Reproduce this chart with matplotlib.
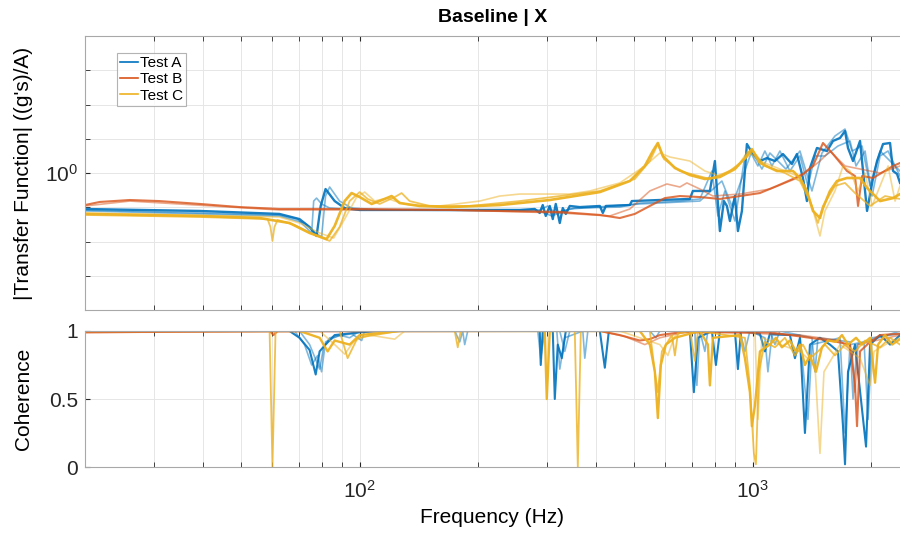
import numpy as np
import matplotlib
matplotlib.use("Agg")
import matplotlib.pyplot as plt
from matplotlib.ticker import FixedLocator, NullFormatter, LogFormatterMathtext

plt.rcParams['font.family'] = ['Liberation Sans', 'DejaVu Sans']

# ---- transfer function magnitude (Hz, (g's)/A) ----
fA1 = [20, 39.2, 62.5, 70.3, 74.6, 77.7, 79.6, 81.9, 86.4, 91.6, 100, 169.5, 255.6, 279, 287.3, 292.4,
       297.6, 304.7, 310.1, 315.6, 323.1, 328.8, 334.7, 342.6, 363.3, 408.6, 415.8, 423.2, 487.1, 492.8,
       580.7, 692.4, 704.7, 778.7, 801.8, 825.6, 845.3, 860.3, 875.6, 901.6, 917.6, 939.4, 967.2, 1001.8,
       1043.8, 1087.5, 1139.7, 1194.5, 1259.2, 1296.7, 1343, 1374.9, 1399.4, 1458.1, 1546.3, 1601.6,
       1668.8, 1718.6, 1749.1, 1801.2, 1876.7, 1955.5, 2025.6, 2073.6, 2147.8, 2237.7, 2277.5, 2331.4, 2372.5]
mA1 = [0.739, 0.727, 0.709, 0.679, 0.635, 0.589, 0.758, 0.874, 0.790, 0.745, 0.733, 0.733, 0.733, 0.739, 0.715, 0.764,
       0.697, 0.758, 0.679, 0.771, 0.657, 0.745, 0.709, 0.758, 0.751, 0.758, 0.715, 0.758, 0.764, 0.790,
       0.797, 0.804, 0.860, 0.860, 1.106, 0.614, 0.790, 0.758, 0.668, 0.824, 0.614, 0.727, 1.276, 1.173,
       1.106, 1.134, 1.106, 1.173, 1.079, 1.173, 0.959, 0.790, 1.043, 1.234, 1.203, 1.309,
       1.342, 1.423, 1.234, 1.106, 1.309, 0.727, 0.959, 1.106, 1.276, 1.287, 1.017, 0.992, 0.920]

fA2 = [20, 62.5, 69.5, 73.7, 75.5, 76.4, 77.7, 80.0, 83.9, 100, 287.3, 301.2, 313.8, 352.8, 459.3, 516.4,
       653, 734.3, 787.9, 816.1, 850.3, 901.6, 956, 984.3, 1031.5, 1074.8, 1119.9, 1173.6, 1244.5, 1319.7,
       1383, 1441.1, 1528.3, 1649.4, 1769.8, 1833.3, 1932.7, 2013.7, 2110.5, 2211.7, 2304.4, 2372.5]
mA2 = [0.733, 0.703, 0.679, 0.625, 0.604, 0.790, 0.810, 0.771, 0.745, 0.733, 0.733, 0.758, 0.715, 0.745, 0.751, 0.777,
       0.790, 0.804, 1.017, 0.697, 0.860, 0.668, 1.154, 1.203, 1.061, 1.203, 1.061, 1.203, 1.017, 1.154,
       0.897, 1.154, 1.154, 1.255, 1.309, 1.061, 1.203, 0.824, 1.154, 1.203, 1.061, 0.975]

fA3 = [20, 62.5, 72.4, 77.3, 80.0, 81.9, 83.9, 88.9, 95.4, 112.4, 287.3, 308.3, 342.6, 516.4, 734.3, 835.4,
       885.9, 995.9, 1056.1, 1106.8, 1215.7, 1319.7, 1415.9, 1501.6, 1620.5, 1718.6, 1790.6, 1898.9,
       1990.2, 2110.5, 2372.5]
mA3 = [0.727, 0.697, 0.657, 0.604, 0.584, 0.824, 0.889, 0.790, 0.745, 0.733, 0.727, 0.697, 0.739, 0.771, 0.790, 0.935,
       0.758, 1.203, 1.034, 1.183, 1.034, 1.203, 0.860, 1.183, 1.365, 1.447, 1.203, 1.255,
       0.897, 1.203, 1.017]

fB1 = [20, 21.8, 26.0, 30.9, 39.2, 49.5, 62.5, 100, 169.5, 227.3, 323.1, 408.6, 459.3, 501.5, 547.6, 598,
       653, 734.3, 825.6, 928.5, 1043.8, 1153.2, 1266.6, 1343, 1424.3, 1510.4, 1601.6, 1738.8, 1822.5,
       1854.9, 1898.9, 2025.6, 2277.5, 2372.5]
mB1 = [0.764, 0.784, 0.797, 0.790, 0.771, 0.751, 0.739, 0.739, 0.733, 0.727, 0.721, 0.703, 0.685, 0.709, 0.758, 0.810,
       0.824, 0.817, 0.804, 0.824, 0.845, 0.897, 0.951, 0.992, 1.061, 1.287, 1.173, 1.017, 0.975,
       0.758, 0.975, 0.959, 1.061, 1.088]

fB2 = [20, 26.0, 62.5, 169.5, 323.1, 433.3, 487.1, 547.6, 605.1, 653, 680.4, 734.3, 792.5, 928.5, 1106.8,
       1319.7, 1484, 1573.8, 1718.6, 1876.7, 2110.5, 2372.5]
mB2 = [0.758, 0.790, 0.733, 0.733, 0.715, 0.697, 0.739, 0.860, 0.912, 0.889, 0.920, 0.874, 0.824, 0.838, 0.874,
       0.967, 1.106, 1.203, 1.061, 1.034, 1.0, 1.061]

fC1 = [20, 39.2, 55.6, 66.3, 74.6, 82.4, 86.4, 91.6, 95.4, 100, 107.3, 115.8, 120.6, 126.4, 142.2, 169.5,
       227.3, 304.7, 408.6, 487.1, 531.8, 557.4, 574, 591.1, 634.2, 692.4, 756.1, 825.6, 901.6, 956, 995.9,
       1043.8, 1153.2, 1266.6, 1319.7, 1374.9, 1424.3, 1484, 1510.4, 1573.8, 1639.7, 1738.8, 1876.7,
       1955.5, 2110.5, 2277.5, 2372.5]
mC1 = [0.709, 0.697, 0.685, 0.657, 0.604, 0.574, 0.641, 0.790, 0.845, 0.817, 0.771, 0.804, 0.824, 0.777, 0.758, 0.751,
       0.764, 0.797, 0.852, 0.935, 1.061, 1.203, 1.287, 1.154, 1.043, 0.983, 0.951, 0.967, 1.034, 1.134, 1.223,
       1.088, 1.017, 1.017, 0.959, 0.860, 0.727, 0.685, 0.745, 0.860, 0.935, 0.959, 0.959,
       0.882, 0.790, 0.810, 0.838]

fC2 = [20, 39.2, 58.3, 59.3, 60.0, 60.7, 61.8, 68.3, 76.8, 83.9, 88.9, 94.3, 100, 104.8, 112.4, 122.8, 127.9,
       134, 150.7, 190.6, 255.6, 323.1, 408.6, 501.5, 547.6, 574, 594.5, 653, 778.7, 875.6, 956, 1001.8,
       1074.8, 1208.6, 1319.7, 1399.4, 1466.7, 1510.4, 1620.5, 1718.6, 1822.5, 1990.2, 2173.2, 2372.5]
mC2 = [0.703, 0.691, 0.679, 0.635, 0.565, 0.635, 0.674, 0.646, 0.594, 0.565, 0.635, 0.790, 0.852, 0.804, 0.771, 0.817, 0.845,
       0.790, 0.758, 0.758, 0.790, 0.824, 0.860, 0.951, 1.106, 1.276, 1.125, 1.017, 0.951, 1.017, 1.125, 1.203,
       1.061, 1.0, 0.935, 0.790, 0.657, 0.758, 0.897, 0.920, 0.845, 0.758, 0.824, 0.804]

fC3 = [20, 62.5, 70.3, 79.1, 85.9, 91.6, 98.3, 103, 109.2, 117.2, 122.8, 134, 159.9, 202.1, 227.3, 255.6,
       287.3, 342.6, 385.3, 459.3, 531.8, 580.7, 615.9, 692.4, 756.1, 825.6, 917.6, 972.7, 1043.8, 1173.6,
       1319.7, 1415.9, 1484, 1528.3, 1620.5, 1698.5, 1769.8, 1854.9, 1932.7, 2013.7, 2110.5, 2211.7,
       2304.4, 2372.5]
mC3 = [0.715, 0.691, 0.657, 0.604, 0.579, 0.679, 0.817, 0.852, 0.790, 0.810, 0.790, 0.764, 0.758, 0.790, 0.824, 0.838,
       0.838, 0.838, 0.860, 0.920, 1.061, 1.183, 1.144, 1.106, 1.017, 0.975, 1.061, 1.203, 1.106, 1.034,
       0.967, 0.758, 0.589, 0.727, 0.860, 1.061, 1.017, 0.860, 1.0, 0.758, 0.897, 1.061,
       0.790, 0.897]

# ---- coherence ----
cfA1 = [20, 66.3, 70.3, 74.6, 77.3, 79.1, 81.9, 86.4, 100, 112.4, 287.3, 289.0, 292.4, 310.1, 313.8, 319.3,
        326.9, 334.7, 408.6, 420.7, 430.7, 692.4, 708.8, 725.7, 787.9, 806.6, 825.6, 901.6, 917.6, 933.9,
        1043.8, 1074.8, 1106.8, 1244.5, 1281.6, 1319.7, 1358.9, 1399.4, 1484, 1573.8, 1649.4, 1698.5,
        1718.6, 1749.1, 1822.5, 1944, 1990.2, 2110.5, 2237.7, 2372.5]
cA1 = [1.0, 1.0, 0.95, 0.86, 0.68, 0.85, 0.90, 0.97, 0.99, 1.0, 1.0, 0.75, 1.0, 1.0, 0.5, 0.9,
       0.8, 1.0, 1.0, 0.73, 1.0, 1.0, 0.55, 0.95, 1.0, 0.75, 1.0, 1.0, 0.72, 1.0,
       0.98, 0.85, 0.98, 0.97, 0.8, 0.95, 0.25, 0.9, 0.95, 0.9, 0.85, 0.3,
       0.02, 0.7, 0.9, 0.15, 0.9, 0.97, 0.9, 0.97]

cfA2 = [20, 68.3, 72.4, 75.5, 78.2, 80.0, 81.9, 88.9, 94.3, 100, 174.6, 179.8, 182.9, 185.1, 188.4, 284.0,
        289.0, 295.9, 317.5, 323.1, 332.7, 369.8, 374.1, 380.8, 547.6, 567.3, 580.7, 713.0, 721.4, 734.3,
        928.5, 956.0, 984.3, 1074.8, 1093.9, 1119.9, 1319.7, 1383.0, 1415.9, 1668.8, 1718.6, 1769.8,
        1921.3, 1967.1, 2013.7, 2372.5]
cA2 = [1, 1, 0.9, 0.75, 0.82, 0.7, 0.92, 0.97, 0.95, 1, 1, 0.92, 1, 0.9, 1, 1,
       0.8, 1, 1, 0.72, 0.95, 1, 0.8, 1, 1, 0.95, 1, 1, 0.6, 1,
       1, 0.85, 1, 0.95, 0.7, 0.97, 0.97, 0.35, 0.9, 0.95, 0.25, 0.9,
       0.92, 0.35, 0.95, 0.98]

cfA3 = [20, 70.3, 74.6, 79.1, 81.0, 83.9, 95.4, 101.2, 103.0, 323.1, 332.7, 342.6, 734.3, 756.1, 769.6,
        1106.8, 1139.7, 1173.6, 1415.9, 1441.1, 1466.7, 1769.8, 1801.2, 1844.1, 2372.5]
cA3 = [1, 1, 0.9, 0.72, 0.88, 0.95, 0.98, 0.93, 1, 1, 0.85, 1, 1, 0.85, 1,
       1, 0.9, 1, 0.95, 0.7, 0.95, 0.92, 0.5, 0.9, 1]

cfB1 = [20, 59.0, 60.4, 61.8, 408.6, 459.3, 516.4, 547.6, 580.7, 653, 1106.8, 1244.5, 1399.4, 1573.8,
        1769.8, 1822.5, 1844.1, 1876.7, 1990.2, 2110.5, 2372.5]
cB1 = [0.99, 1, 0.97, 1, 1, 0.97, 0.93, 0.94, 0.97, 0.99, 0.99, 0.97, 0.95, 0.93,
       0.9, 0.6, 0.3, 0.85, 0.92, 0.97, 0.98]

cfB2 = [20, 408.6, 473.0, 531.8, 580.7, 692.4, 1319.7, 1484, 1668.8, 1790.6, 1822.5, 1854.9, 2372.5]
cB2 = [0.99, 1, 0.96, 0.9, 0.95, 1, 0.97, 0.95, 0.93, 0.85, 0.55, 0.9, 0.97]

cfC1 = [20, 70.3, 79.1, 82.9, 86.4, 94.3, 100, 126.4, 295.9, 299.4, 304.7, 516.4, 547.6, 564.0, 574.0,
        584.2, 601.6, 634.2, 734.3, 769.6, 778.7, 792.5, 928.5, 956.0, 984.3, 995.9, 1013.6, 1043.8,
        1106.8, 1146.4, 1187.5, 1244.5, 1289.2, 1319.7, 1358.9, 1399.4, 1449.6, 1501.6, 1555.4, 1630.1,
        1688.5, 1749.1, 1833.3, 1898.9, 1990.2, 2049.4, 2085.9, 2173.2, 2264.2, 2372.5]
cC1 = [1, 1, 0.95, 0.85, 0.93, 0.9, 0.97, 1, 1, 0.5, 1, 1, 0.9, 0.7, 0.36,
       0.75, 0.9, 0.95, 1, 0.9, 0.6, 0.95, 0.97, 0.8, 0.55, 0.3, 0.45, 0.85,
       0.9, 0.95, 0.88, 0.93, 0.85, 0.9, 0.75, 0.82, 0.7, 0.88, 0.93, 0.92,
       0.97, 0.9, 0.95, 0.9, 0.95, 0.62, 0.9, 0.97, 0.9, 0.94]

cfC2 = [20, 59.0, 60.0, 61.1, 88.9, 93.2, 98.8, 126.4, 174.6, 177.7, 180.8, 352.8, 359.1, 365.5, 547.6,
        564.0, 574.0, 587.6, 623.2, 634.2, 645.4, 692.4, 713.0, 725.7, 956.0, 984.3, 1007.6, 1019.5,
        1037.7, 1074.8, 1139.7, 1208.6, 1281.6, 1343.0, 1399.4, 1466.7, 1528.3, 1620.5, 1718.6, 1822.5,
        1932.7, 2110.5, 2237.7, 2372.5]
cC2 = [1, 1, 0, 1, 1, 0.8, 0.95, 1, 1, 0.88, 1, 1, 0, 1, 1,
       0.7, 0.55, 0.85, 0.97, 0.82, 0.98, 1, 0.78, 1, 0.95, 0.6, 0.1, 0.02,
       0.7, 0.92, 0.88, 0.95, 0.82, 0.9, 0.8, 0.85, 0.9, 0.82, 0.9, 0.85,
       0.93, 0.88, 0.95, 0.9]

cfC3 = [20, 79.1, 86.4, 91.6, 97.1, 106.0, 122.8, 130.2, 459.3, 580.7, 608.7, 630.5, 653.0, 1013.6,
        1031.5, 1056.1, 1173.6, 1319.7, 1441.1, 1484.0, 1519.3, 1668.8, 1876.7, 1990.2, 2037.5, 2237.7, 2372.5]
cC3 = [1, 1, 0.9, 0.83, 0.93, 0.97, 0.94, 1, 1, 0.9, 0.82, 0.95, 1, 1,
       0.35, 0.95, 0.9, 0.85, 0.75, 0.1, 0.7, 0.9, 0.8, 0.6, 0.85, 0.92, 0.95]

blue = '#0072BD'
red = '#D95319'
yellow = '#EDB120'

# trace, colour, width, alpha
mag_traces = [
    (fA2, mA2, blue, 1.2, 0.5), (fA3, mA3, blue, 1.2, 0.5), (fA1, mA1, blue, 1.7, 0.9),
    (fB2, mB2, red, 1.2, 0.5), (fB1, mB1, red, 1.5, 0.8),
    (fC3, mC3, yellow, 1.2, 0.5), (fC2, mC2, yellow, 1.3, 0.75), (fC1, mC1, yellow, 1.9, 0.95),
]
coh_traces = [
    (cfA2, cA2, blue, 1.2, 0.5), (cfA3, cA3, blue, 1.2, 0.5), (cfA1, cA1, blue, 1.5, 0.9),
    (cfB2, cB2, red, 1.2, 0.5), (cfB1, cB1, red, 1.5, 0.8),
    (cfC3, cC3, yellow, 1.2, 0.5), (cfC2, cC2, yellow, 1.3, 0.8), (cfC1, cC1, yellow, 1.7, 0.95),
]

fig = plt.figure(figsize=(9, 5.33), dpi=100)
ax1 = fig.add_axes([0.0944, 0.4184, 0.9056, 0.514])
ax2 = fig.add_axes([0.0944, 0.1238, 0.9056, 0.2552])

for f, m, c, lw, a in mag_traces:
    ax1.plot(f, m, color=c, lw=lw, alpha=a)
for f, m, c, lw, a in coh_traces:
    ax2.plot(f, m, color=c, lw=lw, alpha=a)

# legend proxies
ax1.plot([], [], color=blue, lw=1.2, label='Test A')
ax1.plot([], [], color=red, lw=1.2, label='Test B')
ax1.plot([], [], color=yellow, lw=1.2, label='Test C')

xminor = [20, 30, 40, 50, 60, 70, 80, 90, 200, 300, 400, 500, 600, 700, 800, 900, 2000]
for ax in (ax1, ax2):
    ax.set_xscale('log')
    ax.set_xlim(20, 2372)
    ax.xaxis.set_major_locator(FixedLocator([100, 1000]))
    ax.xaxis.set_minor_locator(FixedLocator(xminor))
    ax.xaxis.set_minor_formatter(NullFormatter())
    ax.grid(True, which='both', color='#e6e6e6', lw=0.7)
    ax.set_axisbelow(True)
    ax.tick_params(which='both', direction='in', top=True, right=False, colors='#262626',
                   labelsize=15, length=3.5, pad=5)
    for s in ('left', 'bottom', 'top'):
        ax.spines[s].set_color('#a8a8a8')
    ax.spines['right'].set_visible(False)

ax1.set_yscale('log')
ax1.set_ylim(10 ** -0.5, 10 ** 0.5)
ax1.yaxis.set_major_locator(FixedLocator([1.0]))
ax1.yaxis.set_major_formatter(LogFormatterMathtext())
ax1.yaxis.set_minor_locator(FixedLocator([10 ** (k / 8) for k in (-3, -2, -1, 1, 2, 3)]))
ax1.yaxis.set_minor_formatter(NullFormatter())
ax1.xaxis.set_major_formatter(NullFormatter())
ax1.set_ylabel("|Transfer Function| ((g's)/A)", fontsize=15)
ax1.yaxis.set_label_coords(-0.064, 0.5)
ax1.set_title('Baseline | X', fontsize=14, fontweight='bold', pad=10)

leg = ax1.legend(loc='upper left', bbox_to_anchor=(0.039, 0.938), borderaxespad=0, fontsize=11,
                 handlelength=1.2, handletextpad=0.1, labelspacing=0.15, borderpad=0.2,
                 frameon=True, fancybox=False, edgecolor='#a0a0a0')
leg.get_frame().set_linewidth(0.8)

ax2.set_ylim(0, 1)
ax2.set_yticks([0, 0.5, 1])
ax2.set_yticklabels(['0', '0.5', '1'])
ax2.xaxis.set_major_formatter(LogFormatterMathtext())
ax2.tick_params(axis='x', which='major', pad=9.5)
ax2.set_ylabel('Coherence', fontsize=15)
ax2.yaxis.set_label_coords(-0.064, 0.5)
ax2.set_xlabel('Frequency (Hz)', fontsize=15, labelpad=4)

fig.savefig('out.png', dpi=100)
